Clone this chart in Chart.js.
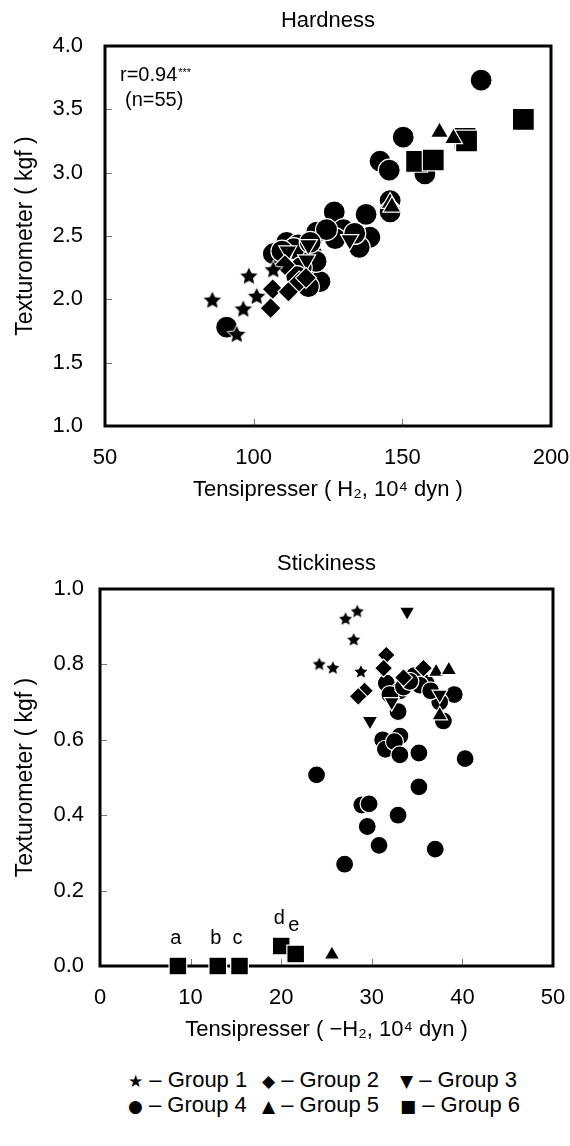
<!DOCTYPE html>
<html>
<head>
<meta charset="utf-8">
<script src="https://cdn.jsdelivr.net/npm/chart.js@4.4.0/dist/chart.umd.min.js"></script>
<style>
  body { margin:0; background:#fff; width:570px; height:1146px; position:relative;
         font-family:"Liberation Sans","DejaVu Sans",Arial,sans-serif; color:#000; }
  .box { position:absolute; left:0; width:570px; height:510px; }
  #box1 { top:0; }
  #box2 { top:540px; }
  .legend { position:absolute; left:128px; top:1068px; font-size:22px; line-height:24px; }
  .legend .row { display:flex; white-space:nowrap; }
  .legend .it { display:inline-block; }
  .legend .it:nth-child(1) { width:134px; }
  .legend .it:nth-child(2) { width:138px; }
  .legend .sym { font-family:"DejaVu Sans",sans-serif; font-size:17px; }
</style>
</head>
<body>
<div class="box" id="box1"><canvas id="hardChart" width="570" height="510"></canvas></div>
<div class="box" id="box2"><canvas id="stickChart" width="570" height="510"></canvas></div>
<div class="legend">
  <div class="row">
    <span class="it"><span class="sym">★</span> – Group 1</span>
    <span class="it"><span class="sym">◆</span> – Group 2</span>
    <span class="it"><span class="sym">▼</span> – Group 3</span>
  </div>
  <div class="row">
    <span class="it"><span class="sym">●</span> – Group 4</span>
    <span class="it"><span class="sym">▲</span> – Group 5</span>
    <span class="it"><span class="sym">■</span> – Group 6</span>
  </div>
</div>
<script>
'use strict';
const FONT = '"Liberation Sans","DejaVu Sans",Arial,sans-serif';

/* ── DATA: Hardness (x = H2, 10^4 dyn ; y = kgf) ── */
const hardG1 = [[86.1,1.99],[96.5,1.92],[98.4,2.18],[101.0,2.02],[94.3,1.72],[106.6,2.23]];
const hardG2 = [[110.5,2.27],[106.4,2.08],[111.7,2.06],[105.7,1.93],[115.3,2.14],[117.6,2.17]];
const hardG3 = [[111.5,2.38],[118.4,2.43],[117.8,2.31],[132.3,2.47]];
const hardG4 = [[176.5,3.73],[150.3,3.28],[142.5,3.09],[145.6,3.02],[157.6,2.99],[145.9,2.78],
  [145.9,2.69],[127.1,2.69],[137.8,2.67],[121.2,2.53],[130.2,2.55],[139.1,2.49],[135.5,2.41],
  [127.4,2.48],[111.1,2.45],[115.0,2.43],[106.6,2.36],[119.5,2.36],[117.9,2.21],[122.3,2.14],
  [118.4,2.10],[90.9,1.78],[113.5,2.40],[121.0,2.30],[116.0,2.25],[114.5,2.18],[134.0,2.52],
  [124.5,2.55],[109.5,2.38],[119.0,2.45]];
const hardG5 = [[162.5,3.32],[167.2,3.27],[145.9,2.76],[146.5,2.73]];
const hardG6 = [[154.8,3.09],[160.4,3.10],[171.1,3.27],[171.6,3.25],[190.7,3.42]];
const hardXTicks = [50, 200, 50];      // min, max, step
const hardYTicks = [1.0, 4.0, 0.5];

/* ── DATA: Stickiness (x = -H2, 10^4 dyn ; y = kgf) ── */
const stickG1 = [[27.1,0.92],[28.4,0.94],[28.0,0.865],[24.2,0.80],[25.7,0.79],[28.8,0.78]];
const stickG2 = [[31.6,0.825],[31.3,0.79],[29.2,0.73],[28.5,0.715],[35.7,0.79],[33.5,0.765]];
const stickG3 = [[33.9,0.94],[29.8,0.65],[37.5,0.72],[32.2,0.70]];
const stickG4 = [[31.6,0.75],[33.1,0.73],[32.0,0.72],[34.7,0.77],[36.0,0.75],[35.3,0.745],
  [39.1,0.72],[32.9,0.675],[37.9,0.65],[37.5,0.70],[31.2,0.60],[33.1,0.61],[31.5,0.575],
  [32.5,0.595],[33.1,0.56],[35.2,0.565],[40.3,0.55],[23.9,0.507],[35.2,0.475],[28.9,0.427],
  [29.7,0.43],[32.9,0.40],[29.5,0.37],[30.8,0.32],[37.0,0.31],[27.0,0.27],[33.5,0.74],
  [36.5,0.73],[34.2,0.755]];
const stickG5 = [[37.1,0.78],[38.5,0.785],[37.5,0.665],[25.6,0.03]];
const stickG6 = [[8.6,0],[13.0,0],[15.4,0],[20.0,0.053],[21.6,0.032]];
const stickG6Labels = ['a','b','c','d','e'];
const stickXTicks = [0, 50, 10];
const stickYTicks = [0, 1.0, 0.2];

/* ── MARKERS ── */
function starImg(r) {
  const s = Math.ceil(r*2+4), c = document.createElement('canvas');
  c.width = s; c.height = s;
  const g = c.getContext('2d');
  g.beginPath();
  for (let i=0;i<10;i++) {
    const rr = i%2 ? r*0.48 : r, a = -Math.PI/2 + i*Math.PI/5;
    g.lineTo(s/2 + rr*Math.cos(a), s/2 + rr*Math.sin(a));
  }
  g.closePath();
  g.fillStyle = '#000'; g.fill();
  g.strokeStyle = '#fff'; g.lineWidth = 1; g.stroke();
  return c;
}
const toPts = arr => arr.map(p => ({x:p[0], y:p[1]}));

function makeSets(groups, sz) {
  const base = { backgroundColor:'#000', borderColor:'#fff', borderWidth:1.2, clip:false };
  return [
    Object.assign({}, base, { label:'Group 1', data:toPts(groups[0]), pointStyle:starImg(sz.star), order:1 }),
    Object.assign({}, base, { label:'Group 2', data:toPts(groups[1]), pointStyle:'rectRot', pointRadius:sz.dia, order:2 }),
    Object.assign({}, base, { label:'Group 3', data:toPts(groups[2]), pointStyle:'triangle', rotation:180, pointRadius:sz.tri, order:3 }),
    Object.assign({}, base, { label:'Group 4', data:toPts(groups[3]), pointStyle:'circle', pointRadius:sz.cir, order:6 }),
    Object.assign({}, base, { label:'Group 5', data:toPts(groups[4]), pointStyle:'triangle', pointRadius:sz.tri, order:4 }),
    Object.assign({}, base, { label:'Group 6', data:toPts(groups[5]), pointStyle:'rect', pointRadius:sz.sq, order:5 }),
  ];
}

/* ── PLUGINS ── */
const framePlugin = {
  id:'frame',
  beforeDatasetsDraw(chart) {
    const {ctx, chartArea:a, scales:{x, y}} = chart;
    ctx.save();
    ctx.strokeStyle = '#777'; ctx.lineWidth = 1;
    x.ticks.forEach((t,i) => {
      if (i===0 || i===x.ticks.length-1) return;
      const px = Math.round(x.getPixelForValue(t.value)) + 0.5;
      ctx.beginPath(); ctx.moveTo(px, a.bottom); ctx.lineTo(px, a.bottom-7); ctx.stroke();
    });
    y.ticks.forEach((t,i) => {
      if (i===0 || i===y.ticks.length-1) return;
      const py = Math.round(y.getPixelForValue(t.value)) + 0.5;
      ctx.beginPath(); ctx.moveTo(a.left, py); ctx.lineTo(a.left+7, py); ctx.stroke();
    });
    ctx.strokeStyle = '#000'; ctx.lineWidth = 3;
    ctx.strokeRect(a.left, a.top, a.width, a.height);
    ctx.restore();
  }
};

const notePlugin = {
  id:'note',
  afterDraw(chart) {
    const {ctx, chartArea:a} = chart;
    ctx.save();
    ctx.fillStyle = '#000'; ctx.textBaseline = 'middle'; ctx.textAlign = 'left';
    ctx.font = '20px ' + FONT;
    ctx.fillText('r=0.94', a.left+15, a.top+29);
    const w = ctx.measureText('r=0.94').width;
    ctx.font = '11px ' + FONT;
    ctx.fillText('***', a.left+16+w, a.top+27);
    ctx.font = '20px ' + FONT;
    ctx.fillText('(n=55)', a.left+20, a.top+54);
    ctx.restore();
  }
};

const letterPlugin = {
  id:'letters',
  afterDatasetsDraw(chart) {
    const {ctx} = chart;
    const meta = chart.getDatasetMeta(5);
    ctx.save();
    ctx.fillStyle = '#000'; ctx.font = '20px ' + FONT;
    ctx.textAlign = 'center'; ctx.textBaseline = 'middle';
    meta.data.forEach((pt,i) => ctx.fillText(stickG6Labels[i], pt.x - 2, pt.y - 28));
    ctx.restore();
  }
};

/* ── CHART FACTORY ── */
function buildChart(id, title, xTitle, xt, yt, sets, yWidth, yPad, pad, titlePadB, extra) {
  return new Chart(document.getElementById(id), {
    type:'scatter',
    data:{ datasets:sets },
    options:{
      responsive:false, animation:false, events:[],
      layout:{ padding:pad },
      plugins:{
        legend:{ display:false }, tooltip:{ enabled:false },
        title:{ display:true, text:title, fullSize:false, color:'#000',
                font:{ family:FONT, size:22, weight:'normal' }, padding:{ top:0, bottom:titlePadB } }
      },
      scales:{
        x:{ type:'linear', min:xt[0], max:xt[1],
            ticks:{ stepSize:xt[2], color:'#000', padding:19, font:{ family:FONT, size:22 } },
            grid:{ display:false, drawTicks:false }, border:{ display:false },
            title:{ display:true, text:xTitle, color:'#000', font:{ family:FONT, size:22 }, padding:{ top:0, bottom:7 } },
            afterFit(s) { s.height = 84; s.paddingLeft = 0; s.paddingRight = 0; } },
        y:{ type:'linear', min:yt[0], max:yt[1],
            ticks:{ stepSize:yt[2], color:'#000', padding:yPad, font:{ family:FONT, size:22 },
                    callback:v => Number(v).toFixed(1) },
            grid:{ display:false, drawTicks:false }, border:{ display:false },
            title:{ display:true, text:'Texturometer ( kgf )', color:'#000', font:{ family:FONT, size:23 }, padding:{ top:12, bottom:0 } },
            afterFit(s) { s.width = yWidth; } }
      }
    },
    plugins:[framePlugin].concat(extra)
  });
}

buildChart('hardChart', 'Hardness', 'Tensipresser ( H₂, 10⁴ dyn )', hardXTicks, hardYTicks,
  makeSets([hardG1,hardG2,hardG3,hardG4,hardG5,hardG6], { star:10, dia:10.5, tri:10.5, cir:11, sq:15.5 }),
  105, 22, { top:8, right:19, left:0, bottom:0 }, 11.6, [notePlugin]);

buildChart('stickChart', 'Stickiness', 'Tensipresser ( −H₂, 10⁴ dyn )', stickXTicks, stickYTicks,
  makeSets([stickG1,stickG2,stickG3,stickG4,stickG5,stickG6], { star:8, dia:9, tri:9, cir:9, sq:12.5 }),
  100, 16, { top:11, right:17, left:0, bottom:0 }, 11.6, [letterPlugin]);
</script>
</body>
</html>
